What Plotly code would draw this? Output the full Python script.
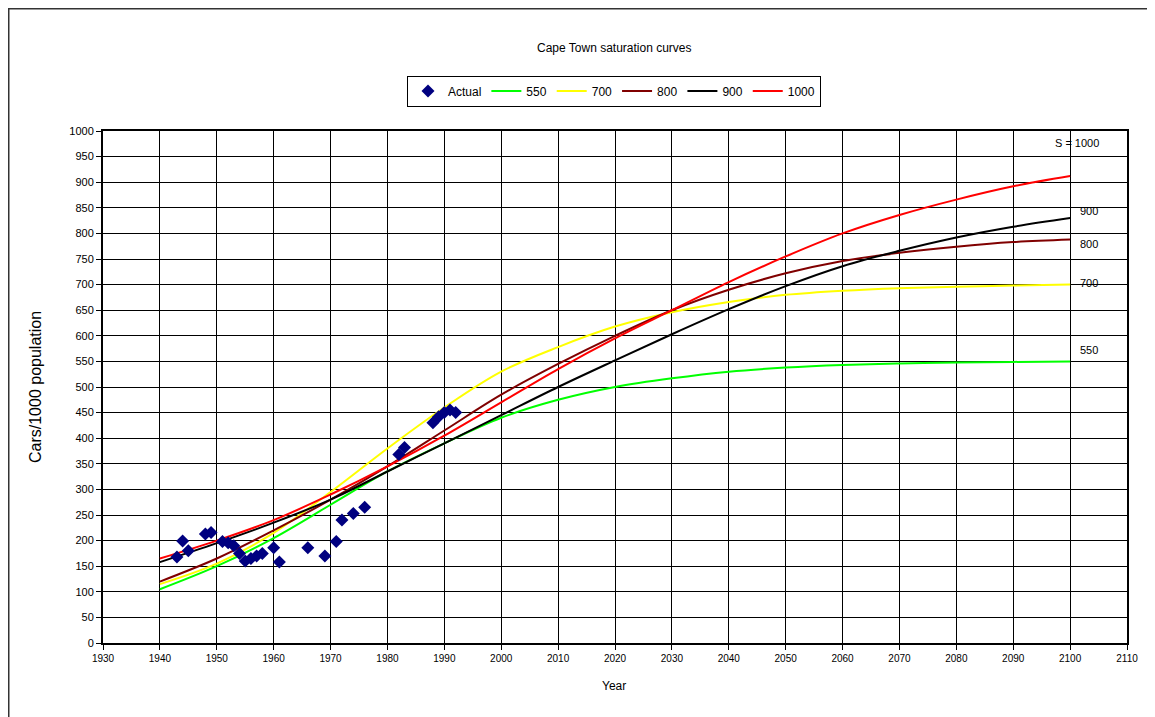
import plotly.graph_objects as go

# ---- data ----
actual_years = [1943, 1944, 1945, 1948, 1949, 1951, 1952, 1953, 1954, 1955, 1956, 1957, 1958,
                1960, 1961, 1966, 1969, 1971, 1972, 1974, 1976, 1982, 1983,
                1988, 1989, 1990, 1991, 1992]
actual_vals = [168, 199, 180, 213, 216, 198, 196, 190, 175, 160, 165, 170, 175,
               186, 158, 186, 170, 198, 240, 253, 265, 368, 382,
               430, 442, 450, 455, 450]

curve_years = [1940, 1950, 1960, 1970, 1980, 1990, 2000, 2010, 2020, 2030, 2040, 2050,
               2060, 2070, 2080, 2090, 2100]
s550 = [105, 150, 205, 270, 335, 390, 440, 475, 500, 517, 530, 538, 543, 546, 548, 549, 550]
s700 = [115, 155, 215, 295, 380, 460, 530, 578, 618, 646, 666, 680, 688, 693, 696, 698, 700]
s800 = [120, 165, 220, 280, 345, 415, 485, 545, 600, 650, 690, 722, 746, 762, 774, 783, 788]
s900 = [158, 195, 235, 280, 335, 390, 445, 500, 552, 603, 652, 697, 736, 766, 792, 813, 830]
s1000 = [165, 200, 240, 290, 345, 405, 470, 535, 595, 650, 705, 755, 800, 836, 866, 892, 912]

series_names = ["550", "700", "800", "900", "1000"]
series_vals = [s550, s700, s800, s900, s1000]
series_colors = ["#00ff00", "#ffff00", "#800000", "#000000", "#ff0000"]

end_labels = ["S = 1000", "900", "800", "700", "550"]
end_label_years = [2097, 2101.4, 2101.4, 2101.4, 2101.4]
end_label_vals = [977, 844, 779, 703, 572]

x_ticks = list(range(1930, 2111, 10))
y_ticks = list(range(0, 1001, 50))

fig = go.Figure()
for name, vals, col in zip(series_names, series_vals, series_colors):
    fig.add_trace(go.Scatter(x=curve_years, y=vals, mode="lines", name=name,
                             line=dict(color=col, width=2, shape="spline"),
                             legendrank=2 + series_names.index(name)))
fig.add_trace(go.Scatter(x=actual_years, y=actual_vals, mode="markers", name="Actual",
                         marker=dict(symbol="diamond", size=10, color="#000080"),
                         legendrank=1))

font = "Liberation Sans, Arial, sans-serif"
W, H = 1147, 709
L, R, T, B = 95, 28, 123, 74
pw, ph = W - L - R, H - T - B

def px_x(p):
    return (p - L) / pw

def px_y(p):
    return (H - B - p) / ph

fig.update_layout(
    width=W, height=H,
    margin=dict(l=L, r=R, t=T, b=B),
    paper_bgcolor="white", plot_bgcolor="white",
    font=dict(family=font, size=11, color="black"),
    showlegend=True,
    legend=dict(orientation="h", x=px_x(606), y=px_y(83), xanchor="center", yanchor="middle",
                bordercolor="black", borderwidth=1, bgcolor="white",
                font=dict(size=12), itemwidth=30, tracegroupgap=0),
    xaxis=dict(range=[1930, 2110], tickvals=x_ticks, showgrid=True, gridcolor="black",
               gridwidth=1, zeroline=False, showline=True, linecolor="black", linewidth=2,
               mirror=True, ticks="outside", ticklen=5, tickcolor="black",
               tickfont=dict(size=10)),
    yaxis=dict(range=[0, 1000], tickvals=y_ticks, showgrid=True, gridcolor="black",
               gridwidth=1, zeroline=False, showline=True, linecolor="black", linewidth=2,
               mirror=True, ticks="outside", ticklen=5, tickcolor="black",
               tickfont=dict(size=11)),
)

annotations = [
    dict(text="Cape Town saturation curves", x=px_x(606), y=px_y(40), xref="paper", yref="paper",
         showarrow=False, font=dict(size=12), xanchor="center", yanchor="middle"),
    dict(text="Year", x=px_x(606), y=px_y(678), xref="paper", yref="paper",
         showarrow=False, font=dict(size=12), xanchor="center", yanchor="middle"),
    dict(text="Cars/1000 population", x=px_x(27), y=0.5, xref="paper", yref="paper",
         showarrow=False, font=dict(size=16), textangle=-90, xanchor="center", yanchor="middle"),
]
for t, xv, yv in zip(end_labels, end_label_years, end_label_vals):
    annotations.append(dict(text=t, x=xv, y=yv, xref="x", yref="y", showarrow=False,
                            xanchor="left", yanchor="middle", font=dict(size=11)))
fig.update_layout(annotations=annotations)

fig.add_shape(type="rect", xref="paper", yref="paper", x0=px_x(0.5), x1=px_x(W + 20),
              y0=px_y(H + 20), y1=px_y(0.5), line=dict(color="#333333", width=2),
              fillcolor="rgba(0,0,0,0)", layer="below")

fig.write_html("out.html")
